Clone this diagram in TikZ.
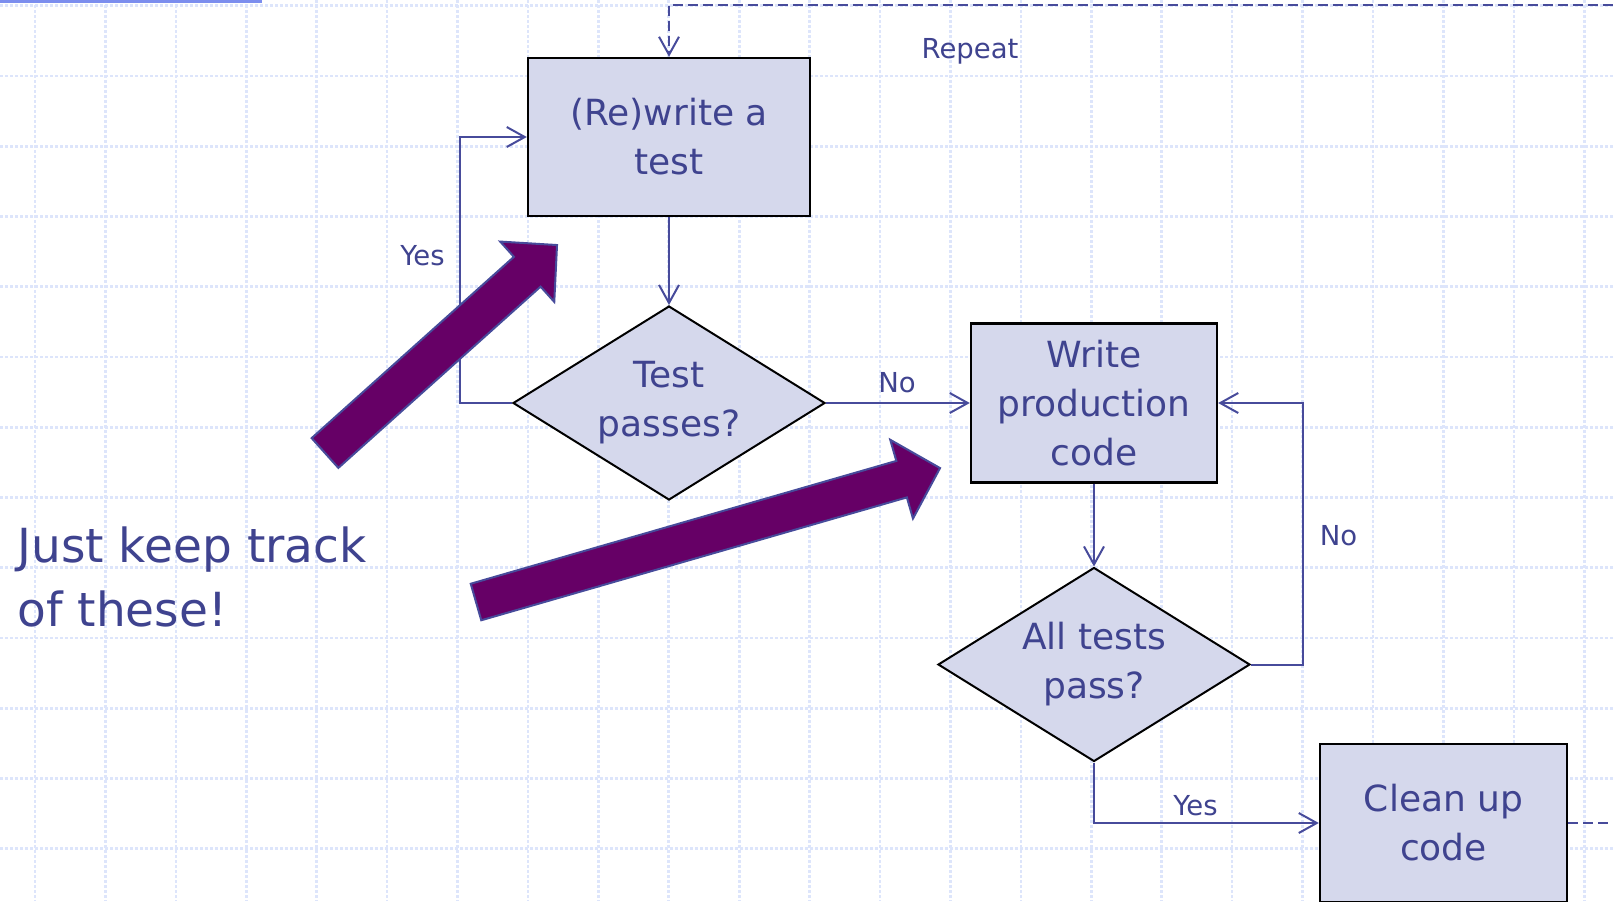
\documentclass[tikz,border=0pt]{standalone}
\usepackage{fontspec}
\setmainfont{DejaVu Sans}
\usetikzlibrary{shapes.geometric, arrows.meta}
\definecolor{tddink}{HTML}{3F438F}
\definecolor{tddline}{HTML}{474B9B}
\definecolor{tddfill}{HTML}{D5D8EC}
\definecolor{tddgrid}{HTML}{DDE5FB}
\definecolor{tddbar}{HTML}{7C8EEE}
\definecolor{tddplum}{HTML}{660066}

\begin{document}
\begin{tikzpicture}[x=0.5pt, y=-0.5pt]
        \tikzstyle{every node}=[text=tddink]
        \tikzstyle{process} = [rectangle, draw=black, line width=1.2pt, fill=tddfill, align=center, inner sep=0pt, font=\fontsize{18}{24.5}\selectfont]
        \tikzstyle{decision} = [diamond, aspect=1.6, draw=black, line width=1pt, fill=tddfill, align=center, inner sep=0pt, minimum width=156pt, minimum height=97pt, font=\fontsize{18}{24.5}\selectfont]
        \tikzstyle{flow} = [draw=tddline, line width=1pt, -{Straight Barb[length=9pt,width=10pt]}]
        \tikzstyle{repeatflow} = [flow, dash pattern=on 5pt off 2.5pt]
        \tikzstyle{flowlabel} = [anchor=base, inner sep=0pt, font=\fontsize{13.75}{16}\selectfont]
        \tikzstyle{hint} = [fill=tddplum, draw=tddline, line width=1pt]
        \tikzstyle{gridline} = [draw=tddgrid, line width=1.3pt, dash pattern=on 1.5pt off 1pt]

        \useasboundingbox (0,0) rectangle (1613,901);

        % squared paper
        \foreach \gx in {0,...,22}
            \draw[gridline] ({35+70.42*\gx},0) -- ({35+70.42*\gx},901);
        \foreach \gy in {0,...,12}
            \draw[gridline] (0,{5.7+70.25*\gy}) -- (1613,{5.7+70.25*\gy});
        \fill[tddbar] (0,0) rectangle (262,3);

        % steps
        \node[process, minimum width=141pt, minimum height=79pt](rewrite) at (669,137) {(Re)write a\\test};
        \node[decision](passes) at (669,403) {Test\\passes?};
        \node[process, minimum width=123pt, minimum height=79.5pt](produce) at (1094,403) {Write\\production\\code};
        \node[decision](allpass) at (1094,664.5) {All tests\\pass?};
        \node[process, minimum width=123.5pt, minimum height=79pt](cleanup) at (1443.5,823) {Clean up\\code};

        % flow between the steps
        \coordinate (yesbend) at (460,403);
        \coordinate (nobend) at (1303,664.5);
        \draw[flow] (rewrite) -- (passes);
        \draw[flow] (passes.west) -- (yesbend) |- (rewrite.west);
        \draw[flow] (passes.east) -- (produce.west);
        \draw[flow] (produce) -- (allpass);
        \draw[flow] (allpass.east) -- (nobend) |- (produce.east);
        \draw[flow] (allpass.south) |- (cleanup.west);

        % repeat loop, leaves the page on the right
        \coordinate (repeatout) at (1613,823);
        \coordinate (repeatin) at (1613,5);
        \draw[repeatflow, -] (cleanup.east) -- (repeatout);
        \draw[repeatflow] (repeatin) -| (rewrite.north);

        \node[flowlabel](repeatlabel) at (970,58) {Repeat};
        \node[flowlabel](yesup) at (422.5,265) {Yes};
        \node[flowlabel](noright) at (897,392) {No};
        \node[flowlabel](noback) at (1338.5,545) {No};
        \node[flowlabel](yesdone) at (1195.5,815) {Yes};

        % pointers
        \begin{scope}[shift={(325,453)}, rotate=41.87]
            \draw[hint] (0,-20) -- (271.6,-20) -- (271.6,-40.5) -- (311.6,0) -- (271.6,40.5) -- (271.6,20) -- (0,20) -- cycle;
        \end{scope}
        \begin{scope}[shift={(476,602)}, rotate=16.1]
            \draw[hint] (0,-19) -- (443,-19) -- (443,-41) -- (483,0) -- (443,41) -- (443,19) -- (0,19) -- cycle;
        \end{scope}

        \node[anchor=west, align=left, inner sep=0pt, font=\fontsize{23.5}{32}\selectfont](reminder) at (17,577) {Just keep track\\of these!};
\end{tikzpicture}
\end{document}
